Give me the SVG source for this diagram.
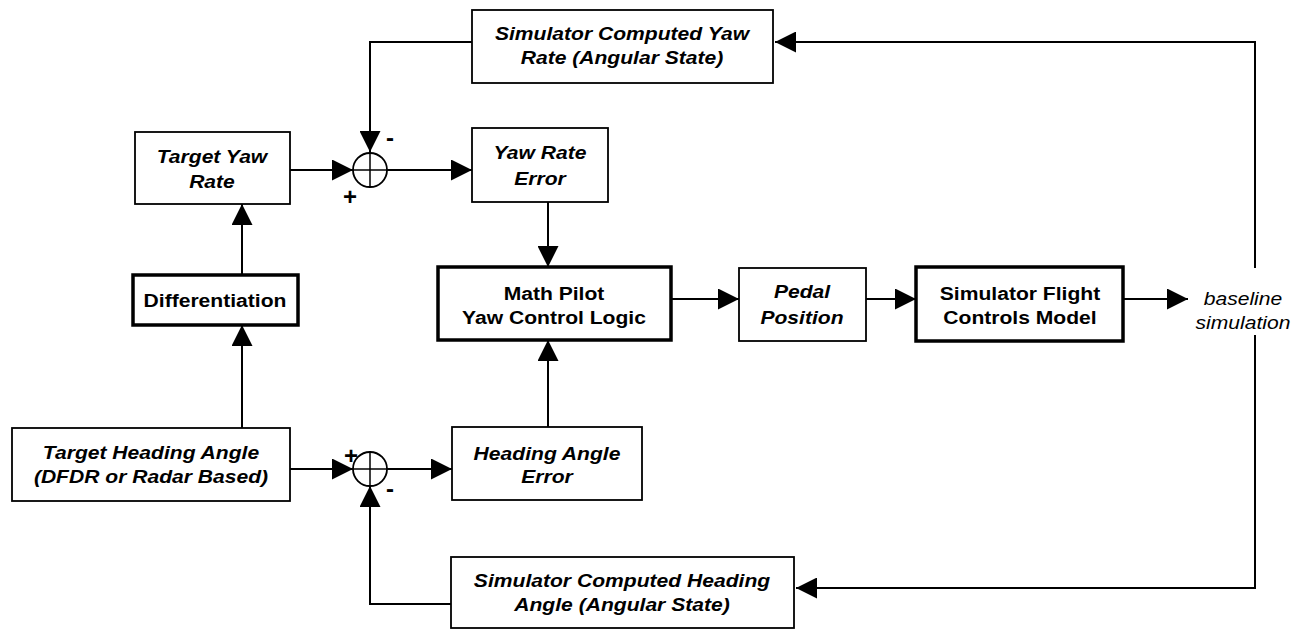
<svg xmlns="http://www.w3.org/2000/svg" width="1298" height="631" viewBox="0 0 1298 631">
<style>
.box{fill:#fff;stroke:#000;stroke-width:1.8}
.tbox{fill:#fff;stroke:#000;stroke-width:3.5}
.conn{fill:none;stroke:#000;stroke-width:2}
.sum{fill:#fff;stroke:#000;stroke-width:1.8}
.t{font-family:"Liberation Sans",Arial,sans-serif;font-size:19px;font-weight:bold;text-anchor:middle;fill:#000}
.i{font-style:italic}
.n{font-weight:normal}
.sg{font-family:"Liberation Sans",Arial,sans-serif;font-weight:bold;text-anchor:middle;fill:#000}
</style>
<defs>
<marker id="arr" markerUnits="userSpaceOnUse" markerWidth="21" markerHeight="21" refX="21" refY="10.5" orient="auto">
<path d="M0,0 L21,10.5 L0,21 z" fill="#000"/>
</marker>
</defs>
<g id="connectors">
<path class="conn" d="M472,42 H370 V152" marker-end="url(#arr)"/>
<path class="conn" d="M290,170 H353" marker-end="url(#arr)"/>
<path class="conn" d="M387,170 H472" marker-end="url(#arr)"/>
<path class="conn" d="M548,202 V267" marker-end="url(#arr)"/>
<path class="conn" d="M671,299 H739" marker-end="url(#arr)"/>
<path class="conn" d="M866,299 H916" marker-end="url(#arr)"/>
<path class="conn" d="M1123,299 H1188" marker-end="url(#arr)"/>
<path class="conn" d="M1255,268 V42 H775" marker-end="url(#arr)"/>
<path class="conn" d="M1255,335 V588 H796" marker-end="url(#arr)"/>
<path class="conn" d="M451,604 H370 V486" marker-end="url(#arr)"/>
<path class="conn" d="M290,469 H353" marker-end="url(#arr)"/>
<path class="conn" d="M387,469 H452" marker-end="url(#arr)"/>
<path class="conn" d="M548,427 V340" marker-end="url(#arr)"/>
<path class="conn" d="M242,428 V325" marker-end="url(#arr)"/>
<path class="conn" d="M242,275 V204" marker-end="url(#arr)"/>
</g>
<g id="sum_yaw">
<circle class="sum" cx="370" cy="170" r="17"/>
<path class="conn" d="M353,170 H387 M370,153 V187" style="stroke-width:1.5"/>
<text class="sg" x="390" y="146" font-size="24">-</text>
<text class="sg" x="350" y="205" font-size="24">+</text>
</g>
<g id="sum_heading">
<circle class="sum" cx="370" cy="469" r="17"/>
<path class="conn" d="M353,469 H387 M370,452 V486" style="stroke-width:1.5"/>
<text class="sg" x="351" y="464" font-size="24">+</text>
<text class="sg" x="390" y="497" font-size="24">-</text>
</g>
<g id="sim_yaw_rate">
<rect class="box" x="472" y="10" width="301" height="73"/>
<text class="t i" transform="translate(622,0) scale(1.11,1)" x="0" y="40">Simulator Computed Yaw</text>
<text class="t i" transform="translate(622,0) scale(1.11,1)" x="0" y="64">Rate (Angular State)</text>
</g>
<g id="target_yaw_rate">
<rect class="box" x="135" y="132" width="155" height="72"/>
<text class="t i" transform="translate(212,0) scale(1.11,1)" x="0" y="163">Target Yaw</text>
<text class="t i" transform="translate(212,0) scale(1.11,1)" x="0" y="188">Rate</text>
</g>
<g id="yaw_rate_error">
<rect class="box" x="472" y="128" width="136" height="74"/>
<text class="t i" transform="translate(540,0) scale(1.11,1)" x="0" y="159">Yaw Rate</text>
<text class="t i" transform="translate(540,0) scale(1.11,1)" x="0" y="185">Error</text>
</g>
<g id="differentiation">
<rect class="tbox" x="133" y="275" width="165" height="50"/>
<text class="t" transform="translate(215,0) scale(1.11,1)" x="0" y="307">Differentiation</text>
</g>
<g id="math_pilot">
<rect class="tbox" x="438" y="267" width="233" height="73"/>
<text class="t" transform="translate(554,0) scale(1.11,1)" x="0" y="300">Math Pilot</text>
<text class="t" transform="translate(554,0) scale(1.11,1)" x="0" y="324">Yaw Control Logic</text>
</g>
<g id="pedal_position">
<rect class="box" x="739" y="268" width="127" height="73"/>
<text class="t i" transform="translate(802,0) scale(1.11,1)" x="0" y="298">Pedal</text>
<text class="t i" transform="translate(802,0) scale(1.11,1)" x="0" y="324">Position</text>
</g>
<g id="sim_flight_controls">
<rect class="tbox" x="916" y="267" width="207" height="74"/>
<text class="t" transform="translate(1020,0) scale(1.11,1)" x="0" y="300">Simulator Flight</text>
<text class="t" transform="translate(1020,0) scale(1.11,1)" x="0" y="324">Controls Model</text>
</g>
<g id="baseline_simulation">
<text class="t i n" transform="translate(1243,0) scale(1.11,1)" x="0" y="305">baseline</text>
<text class="t i n" transform="translate(1243,0) scale(1.11,1)" x="0" y="329">simulation</text>
</g>
<g id="target_heading">
<rect class="box" x="12" y="428" width="278" height="73"/>
<text class="t i" transform="translate(151,0) scale(1.11,1)" x="0" y="459">Target Heading Angle</text>
<text class="t i" transform="translate(151,0) scale(1.11,1)" x="0" y="483">(DFDR or Radar Based)</text>
</g>
<g id="heading_angle_error">
<rect class="box" x="452" y="427" width="190" height="73"/>
<text class="t i" transform="translate(547,0) scale(1.11,1)" x="0" y="460">Heading Angle</text>
<text class="t i" transform="translate(547,0) scale(1.11,1)" x="0" y="483">Error</text>
</g>
<g id="sim_heading">
<rect class="box" x="451" y="557" width="343" height="71"/>
<text class="t i" transform="translate(622,0) scale(1.11,1)" x="0" y="587">Simulator Computed Heading</text>
<text class="t i" transform="translate(622,0) scale(1.11,1)" x="0" y="611">Angle (Angular State)</text>
</g>
</svg>
